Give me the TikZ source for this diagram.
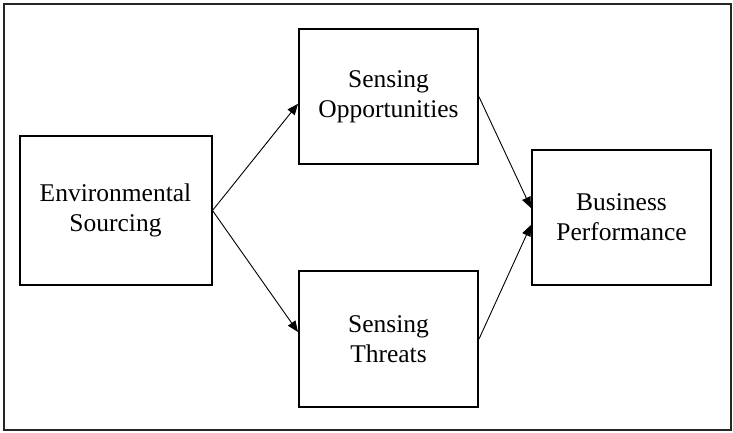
\documentclass[tikz,border=0pt]{standalone}
\usepackage{fontspec}
\setmainfont{Liberation Serif}
\usetikzlibrary{arrows.meta}
\begin{document}
\begin{tikzpicture}[x=1pt,y=-1pt,
  box/.style={draw, line width=2pt, align=center, inner sep=0pt,
    font=\fontsize{25.5}{30}\selectfont},
  link/.style={line width=0.9pt, -{Triangle[length=11pt,width=9pt]}}]
\useasboundingbox (0,0) rectangle (733,432);
\draw[line width=1.5pt, black!85] (4,4) rectangle (731,430);
\node[box, minimum width=192pt, minimum height=149pt] (env) at (115.5,210.5) {Environmental\\Sourcing};
\node[box, minimum width=179pt, minimum height=135pt] (so) at (388.5,96.8) {Sensing\\Opportunities};
\node[box, minimum width=179pt, minimum height=136pt] (st) at (388.5,339) {Sensing\\Threats};
\node[box, minimum width=179pt, minimum height=135pt] (bp) at (621.5,217.5) {Business\\Performance};
\draw[link] (env.east) -- ([yshift=-7pt]so.west);
\draw[link] (env.east) -- ([yshift=7pt]st.west);
\draw[link] (so.east) -- ([yshift=9.5pt]bp.west);
\draw[link] (st.east) -- ([yshift=-7.5pt]bp.west);
\end{tikzpicture}
\end{document}
